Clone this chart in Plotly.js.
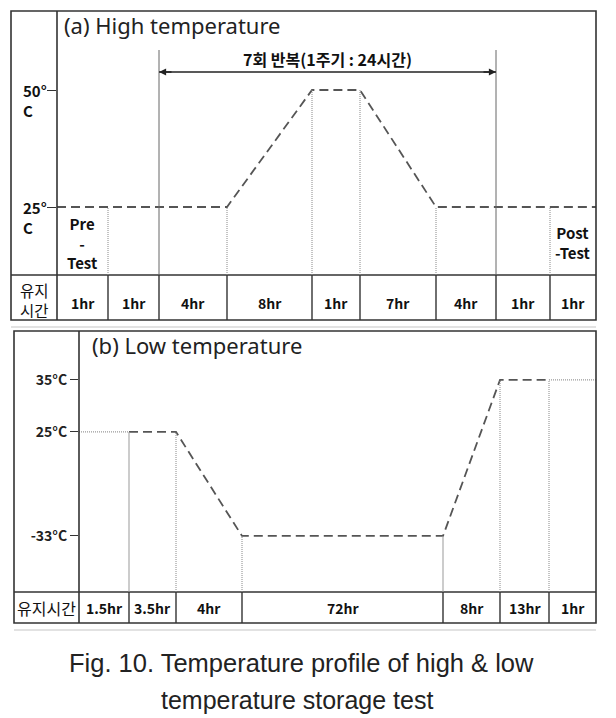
<!DOCTYPE html>
<html><head><meta charset="utf-8">
<script src="https://cdn.plot.ly/plotly-3.0.1.min.js"></script>
<style>html,body{margin:0;padding:0;background:#fff;}#chart{width:616px;height:718px;}</style>
</head><body><div id="chart"></div>
<script>
// ---------------- data ----------------
const titleA = '(a) High temperature';
const hoursA = ['1hr','1hr','4hr','8hr','1hr','7hr','4hr','1hr','1hr'];
const tempsA = [25,25,25,25,50,50,25,25,25,25];     // temperature at each column boundary
const tickTempsA = [25,50];
const preLabel = 'Pre<br>-<br>Test';
const postLabel = 'Post<br>-Test';
const repeatLabel = '7회 반복(1주기 : 24시간)';
const rowLabelA = ['유지','시간'];

const titleB = '(b) Low temperature';
const hoursB = ['1.5hr','3.5hr','4hr','72hr','8hr','13hr','1hr'];
const tempsB = [25,25,25,-33,-33,35,35,35];
const levelsB = [-33, null, 25, 35];                 // ordinal (schematic) temperature levels
const rowLabelB = '유지시간';

const caption1 = 'Fig. 10. Temperature profile of high & low';
const caption2 = 'temperature storage test';

// ---------------- layout constants (schematic sizes, px) ----------------
const W = 616, H = 718;
const colWA = [51,51,68,85,48,76,60,54,46];
const colWB = [50,47,66,201,57,49,47];
const divStyleA = ['dot','major','dot','dot','dot','dot','major','dot'];
const divStyleB = ['solid','dot','dot','solid','dot','dot'];
const segStyleB = ['dot','dash','dash','dash','dash','dash','dot'];
const boxA = {l:11, t:11, r:596, b:320, col:57, row:275};
const boxB = {l:14, t:331, r:596, b:623, col:79, row:592};
const yRangeA = [10.47, 66.88];
const yRangeB = [-1.077, 3.94];

const px = x => x / W;
const py = y => 1 - y / H;
const cum = a => a.reduce((acc, v) => { acc.push(acc[acc.length-1] + v); return acc; }, [0]);
const bA = cum(colWA), bB = cum(colWB);
const lvl = t => levelsB.indexOf(t);

const FONT = '"Noto Sans CJK KR", "Noto Sans", sans-serif';
const BORDER = '#333';
const DASH = '9px,5px';
const DOT = '1px,1px';

// ---------------- traces ----------------
const traces = [];
traces.push({x: bA, y: tempsA, xaxis:'x', yaxis:'y', mode:'lines',
  line:{color:'#555', width:1.8, dash:DASH}, hoverinfo:'skip'});

// panel b segments grouped into runs of equal style
let run = null;
for (let i = 0; i < segStyleB.length; i++) {
  if (!run || run.style !== segStyleB[i]) {
    if (run) traces.push(run.tr);
    run = {style: segStyleB[i], tr: {x:[bB[i]], y:[lvl(tempsB[i])], xaxis:'x2', yaxis:'y2', mode:'lines', hoverinfo:'skip',
      line: segStyleB[i] === 'dash' ? {color:'#555', width:1.8, dash:DASH} : {color:'#999', width:1.2, dash:DOT}}};
  }
  run.tr.x.push(bB[i+1]); run.tr.y.push(lvl(tempsB[i+1]));
}
traces.push(run.tr);

// ---------------- shapes ----------------
const shapes = [];
function frame(bx){
  shapes.push({type:'rect', xref:'paper', yref:'paper', x0:px(bx.l), x1:px(bx.r), y0:py(bx.b), y1:py(bx.t), line:{color:BORDER, width:1.6}});
  shapes.push({type:'line', xref:'paper', yref:'paper', x0:px(bx.col), x1:px(bx.col), y0:py(bx.b), y1:py(bx.t), line:{color:BORDER, width:1.6}});
  shapes.push({type:'line', xref:'paper', yref:'paper', x0:px(bx.l), x1:px(bx.r), y0:py(bx.row), y1:py(bx.row), line:{color:BORDER, width:1.6}});
  shapes.push({type:'line', xref:'paper', yref:'paper', x0:px(bx.l), x1:px(bx.r), y0:py(bx.b+7), y1:py(bx.b+7), line:{color:'#e2e2e2', width:2}});
}
frame(boxA); frame(boxB);

for (let i = 1; i < bA.length - 1; i++) {
  shapes.push({type:'line', xref:'x', yref:'paper', x0:bA[i], x1:bA[i], y0:py(boxA.row), y1:py(boxA.b), line:{color:BORDER, width:1.4}});
  if (divStyleA[i-1] === 'major')
    shapes.push({type:'line', xref:'x', yref:'paper', x0:bA[i], x1:bA[i], y0:py(50), y1:py(boxA.row), line:{color:'#666', width:1}});
  else
    shapes.push({type:'line', xref:'x', yref:'y', x0:bA[i], x1:bA[i], y0:yRangeA[0], y1:tempsA[i], line:{color:'#888', width:1, dash:DOT}});
}
for (let i = 1; i < bB.length - 1; i++) {
  shapes.push({type:'line', xref:'x2', yref:'paper', x0:bB[i], x1:bB[i], y0:py(boxB.row), y1:py(boxB.b), line:{color:BORDER, width:1.4}});
  const st = divStyleB[i-1];
  shapes.push({type:'line', xref:'x2', yref:'y2', x0:bB[i], x1:bB[i], y0:yRangeB[0], y1:lvl(tempsB[i]),
    line: st === 'solid' ? {color:'#999', width:1} : {color:'#888', width:1, dash:DOT}});
}
// repeat arrow line
shapes.push({type:'line', xref:'x', yref:'paper', x0:bA[2], x1:bA[7], y0:py(72), y1:py(72), line:{color:'#222', width:1.3}});

// ---------------- annotations ----------------
const ann = [];
const txt = (o) => ann.push(Object.assign({showarrow:false, xanchor:'center', font:{family:FONT, size:14, color:'#111'}}, o));

txt({text:titleA, xref:'paper', yref:'paper', x:px(62), y:py(25), xanchor:'left', yanchor:'middle', font:{family:'"Noto Sans", sans-serif', size:22, color:'#222'}});
txt({text:titleB, xref:'paper', yref:'paper', x:px(90), y:py(345), xanchor:'left', yanchor:'middle', font:{family:'"Noto Sans", sans-serif', size:22, color:'#222'}});

hoursA.forEach((h,i)=> txt({text:'<b>'+h+'</b>', xref:'x', yref:'paper', x:(bA[i]+bA[i+1])/2, y:py(303), yanchor:'middle'}));
hoursB.forEach((h,i)=> txt({text:'<b>'+h+'</b>', xref:'x2', yref:'paper', x:(bB[i]+bB[i+1])/2, y:py(608), yanchor:'middle'}));

rowLabelA.forEach((s,i)=> txt({text:s, xref:'paper', yref:'paper', x:px((boxA.l+boxA.col)/2), y:py(290 + i*20), yanchor:'middle', font:{family:FONT, size:15.5, color:'#111'}}));
txt({text:rowLabelB, xref:'paper', yref:'paper', x:px((boxB.l+boxB.col)/2), y:py(608), yanchor:'middle', font:{family:FONT, size:16, color:'#111'}});

txt({text:'<b>'+preLabel.split('<br>').join('</b><br><b>')+'</b>', xref:'x', yref:'paper', x:(bA[0]+bA[1])/2, y:py(243), yanchor:'middle', font:{family:FONT, size:15, color:'#111'}});
txt({text:'<b>'+postLabel.split('<br>').join('</b><br><b>')+'</b>', xref:'x', yref:'paper', x:(bA[8]+bA[9])/2, y:py(242), yanchor:'middle', font:{family:FONT, size:15, color:'#111'}});

txt({text:'<b>'+repeatLabel+'</b>', xref:'x', yref:'paper', x:(bA[2]+bA[7])/2, y:py(59), yanchor:'middle', font:{family:FONT, size:16, color:'#111'}});

tickTempsA.forEach(t => txt({text:'<b>'+t+'°</b><br><b>C</b>', xref:'paper', yref:'y', x:px(21), y:t, xanchor:'left', yanchor:'top', align:'left', yshift:12, font:{family:FONT, size:15, color:'#111'}}));

// arrow heads
[[bA[7], -14], [bA[2], 14]].forEach(([x, ax]) => ann.push({x:x, y:py(72), xref:'x', yref:'paper', ax:ax, ay:0, axref:'pixel', ayref:'pixel',
  text:'', showarrow:true, arrowhead:2, arrowsize:1.1, arrowwidth:1.3, arrowcolor:'#222'}));

txt({text:caption1, xref:'paper', yref:'paper', x:px(301), y:py(663), yanchor:'middle', font:{family:'"Liberation Sans", Arial, sans-serif', size:25.5, color:'#222'}});
txt({text:caption2, xref:'paper', yref:'paper', x:px(297), y:py(700), yanchor:'middle', font:{family:'"Liberation Sans", Arial, sans-serif', size:25, color:'#222'}});

// ---------------- layout ----------------
const hidden = {showgrid:false, zeroline:false, showline:false, ticks:'', showticklabels:false, fixedrange:true};
const layout = {
  width:W, height:H, margin:{l:0,r:0,t:0,b:0}, paper_bgcolor:'#fff', plot_bgcolor:'rgba(0,0,0,0)',
  showlegend:false, hovermode:false,
  xaxis: Object.assign({}, hidden, {domain:[px(boxA.col), px(boxA.r)], range:[0, bA[bA.length-1]], anchor:'y'}),
  yaxis: Object.assign({}, hidden, {domain:[py(boxA.row), py(boxA.t)], range:yRangeA, anchor:'x',
    ticks:'outside', ticklen:9, tickwidth:1, tickcolor:BORDER, tickmode:'array', tickvals:tickTempsA}),
  xaxis2: Object.assign({}, hidden, {domain:[px(boxB.col), px(boxB.r)], range:[0, bB[bB.length-1]], anchor:'y2'}),
  yaxis2: Object.assign({}, hidden, {domain:[py(boxB.row), py(boxB.t)], range:yRangeB, anchor:'x2',
    ticks:'outside', ticklen:8, tickwidth:1, tickcolor:BORDER, tickmode:'array',
    tickvals: levelsB.map((t,i)=>t===null?null:i).filter(v=>v!==null),
    ticktext: levelsB.filter(t=>t!==null).map(t=>'<b>'+t+'°C</b>'),
    showticklabels:true, tickfont:{family:FONT, size:14, color:'#222'}}),
  shapes: shapes, annotations: ann
};
Plotly.newPlot('chart', traces, layout, {staticPlot:true, displayModeBar:false});
</script></body></html>
